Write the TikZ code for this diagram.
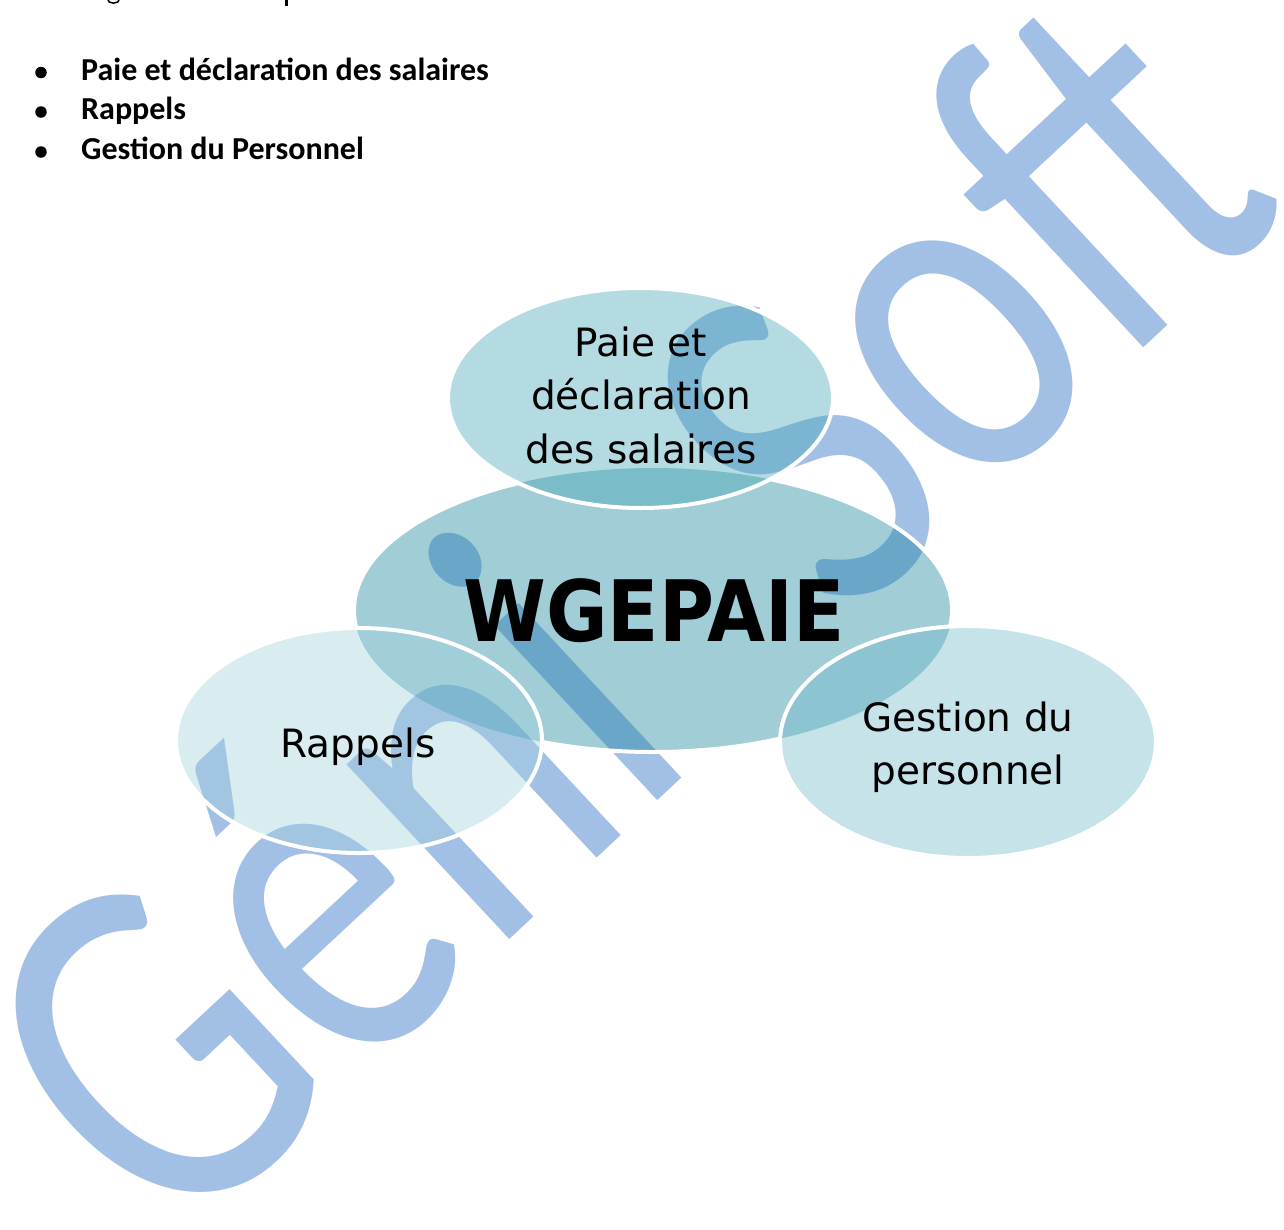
\documentclass[tikz,border=0pt]{standalone}
\usepackage{fontspec}
\setmainfont{DejaVu Sans}
\newfontfamily\calib{Carlito}
\usetikzlibrary{shapes.geometric}
\definecolor{wmblue}{RGB}{162,191,230}
\definecolor{cCentre}{RGB}{22,130,157}
\definecolor{cPaie}{RGB}{65,167,182}
\definecolor{cRappels}{RGB}{162,210,222}
\definecolor{cGestion}{RGB}{110,185,202}
\begin{document}
\begin{tikzpicture}[x=1pt,y=-1pt,
  bubble/.style={ellipse, inner sep=0pt, fill opacity=0.4, draw=none},
  rim/.style={draw=white, line width=4pt},
  lbl/.style={font=\fontsize{39}{53.5}\selectfont, align=center, inner sep=0pt, text=black},
  head/.style={font=\calib\bfseries\fontsize{32}{40}\selectfont, anchor=base west, inner sep=0pt},
  puce/.style={circle, fill=black, minimum size=11.5pt, inner sep=0pt}]
\useasboundingbox (0,0) rectangle (1284,1229);
\fill[white] (0,0) rectangle (1284,1229);
\clip (0,0) rectangle (1284,1229);
% watermark
\node[font=\calib\fontsize{100}{100}\selectfont, text=wmblue, inner sep=0pt, anchor=base,
      rotate=43, xscale=3.85, yscale=5.0] (wm) at (733,731) {Géni\kern.498em Soft};
% fragments of the cut line at the top
\draw[line width=1.5pt] (107.5,-1) .. controls (107.5,4.5) and (119.5,4.5) .. (119.5,-1);
\fill (285.3,0) rectangle (288.3,5.5);
% bullets
\node[puce] (d1) at (41,72.5) {};
\node[head] (h1) at (81,80) {Paie et déclaration des salaires};
\node[puce] (d2) at (41,112) {};
\node[head] (h2) at (81,119.7) {Rappels};
\node[puce] (d3) at (41,152) {};
\node[head] (h3) at (81,159.4) {Gestion du Personnel};
% ellipses
\node[bubble, fill=cCentre, minimum width=598pt, minimum height=284pt] (centre) at (653,610) {};
\node[bubble, fill=cPaie, minimum width=385pt, minimum height=220pt] (paie) at (640.5,398) {};
\node[bubble, fill=cRappels, minimum width=366pt, minimum height=225pt] (rappels) at (359,740.5) {};
\node[bubble, fill=cGestion, minimum width=376pt, minimum height=232pt] (gestion) at (968,742) {};
\begin{scope}
\clip (0,0) -- (1284,0) -- (1284,1229) -- (0,1229) -- cycle
  (paie.center) ellipse [x radius=192.5pt, y radius=110pt]
  (rappels.center) ellipse [x radius=183pt, y radius=112.5pt]
  (gestion.center) ellipse [x radius=188pt, y radius=116pt];
\draw[rim] (centre.center) ellipse [x radius=299pt, y radius=142pt];
\end{scope}
\draw[rim] (paie.center) ellipse [x radius=192.5pt, y radius=110pt];
\draw[rim] (rappels.center) ellipse [x radius=183pt, y radius=112.5pt];
\draw[rim] (gestion.center) ellipse [x radius=188pt, y radius=116pt];
% labels
\node[inner sep=0pt, font=\bfseries\fontsize{75}{80}\selectfont, yscale=1.13, anchor=base] (tc) at (654,641) {WGEPAIE};
\node[lbl] (tp) at (641,395) {Paie et\\déclaration\\des salaires};
\node[lbl, anchor=base] (tr) at (358,757) {Rappels};
\node[lbl] (tg) at (968,747) {Gestion du\\personnel};
\end{tikzpicture}
\end{document}
